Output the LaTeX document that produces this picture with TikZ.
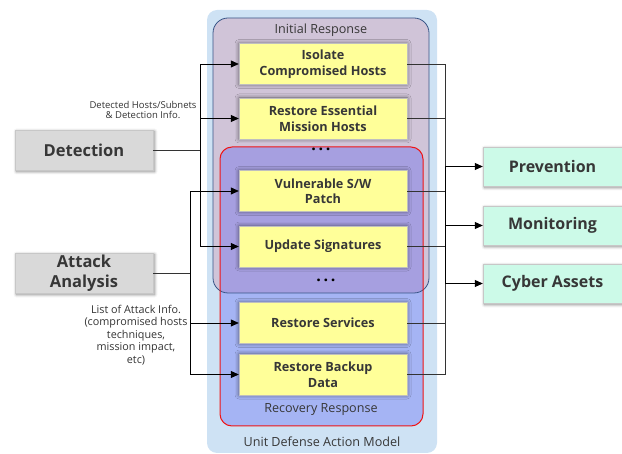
\documentclass[tikz,border=0pt]{standalone}
\usepackage{fontspec}
\setmainfont{Open Sans}
\usepackage{tikz}
\usetikzlibrary{arrows.meta,shadows.blur}
\definecolor{udmouter}{RGB}{206,226,244}
\definecolor{udminit}{RGB}{208,196,216}
\definecolor{udminitline}{RGB}{55,85,135}
\definecolor{udmrecov}{RGB}{72,75,245}
\definecolor{udmred}{RGB}{240,20,20}
\definecolor{udmyellow}{RGB}{255,255,153}
\definecolor{udmgray}{RGB}{217,217,217}
\definecolor{udmmint}{RGB}{204,250,232}
\definecolor{udmtext}{RGB}{55,55,55}

\begin{document}
\begin{tikzpicture}[
  x=1pt, y=-1pt,
  action/.style={draw=black!25, fill=udmyellow, minimum width=168pt, minimum height=41pt,
                 align=center, inner sep=1pt, text=udmtext,
                 font=\bfseries\fontsize{12.7}{15.5}\selectfont,
                 blur shadow={shadow xshift=0pt, shadow yshift=0pt, shadow blur radius=4pt, shadow opacity=55}},
  source/.style={draw=black!22, fill=udmgray, minimum width=138pt, minimum height=40pt,
                 align=center, inner sep=0pt, text=udmtext,
                 font=\bfseries\fontsize{16.5}{20}\selectfont,
                 blur shadow={shadow xshift=1.5pt, shadow yshift=-1.5pt, shadow blur radius=3pt, shadow opacity=50}},
  target/.style={draw=black!22, fill=udmmint, minimum width=139pt, minimum height=39pt,
                 align=center, inner sep=0pt, text=udmtext,
                 font=\bfseries\fontsize{16}{20}\selectfont,
                 blur shadow={shadow xshift=1.5pt, shadow yshift=-1.5pt, shadow blur radius=3pt, shadow opacity=50}},
  caption/.style={text=udmtext, font=\fontsize{12.6}{15}\selectfont},
  info/.style={text=black!80, align=center},
  arr/.style={-{Triangle[length=8pt, width=7pt]}, line width=0.8pt, black},
  feed/.style={line width=0.8pt, black!80}
]
\useasboundingbox (0,0) rectangle (622,454);
% ---- containers ----
\fill[udmouter, rounded corners=10pt] (207,10) rectangle (437,453);
\fill[udminit, rounded corners=15pt] (213,18) rectangle (429,293);
\fill[udmrecov, fill opacity=0.3, rounded corners=12pt] (220,147) rectangle (423,426);
\draw[udminitline, line width=0.8pt, rounded corners=15pt] (213,18) rectangle (429,293);
\draw[udmred, line width=1pt, rounded corners=12pt] (220,147) rectangle (423,426);
\node[caption] (initlbl) at (321,30) {Initial Response};
\node[caption] (recovlbl) at (321,410) {Recovery Response};
\node[caption] (modellbl) at (322,442) {Unit Defense Action Model};
\node[font=\bfseries\fontsize{16}{16}\selectfont] (dots1) at (321,149) {.\,.\,.};
\node[font=\bfseries\fontsize{16}{16}\selectfont] (dots2) at (326,280) {.\,.\,.};
% ---- defense actions ----
\node[action] (iso) at (323,64) {Isolate\\Compromised Hosts};
\node[action] (ess) at (323,118.5) {Restore Essential\\Mission Hosts};
\node[action] (vul) at (323,191) {Vulnerable S/W\\Patch};
\node[action] (sig) at (323,246.5) {Update Signatures};
\node[action] (svc) at (323,323) {Restore Services};
\node[action] (bak) at (323,374.5) {Restore Backup\\Data};
% ---- inputs ----
\node[source] (det) at (84,150) {Detection};
\node[source] (att) at (84,273) {Attack\\Analysis};
\node[info, font=\fontsize{9.5}{10.5}\selectfont] (detinfo) at (143,110)
  {Detected Hosts/Subnets\\\& Detection Info.};
\node[info, font=\fontsize{10.8}{12.5}\selectfont] (attinfo) at (136,335)
  {List of Attack Info.\\(compromised hosts\\techniques,\\mission impact,\\etc)};
% ---- outputs ----
\node[target] (prev) at (552.5,166.5) {Prevention};
\node[target] (mon) at (552.5,225.5) {Monitoring};
\node[target] (cyb) at (552.5,283.5) {Cyber Assets};
% left buses
\coordinate (dbus) at (200,150);
\coordinate (abus) at (190,273);
\draw[feed] (det.east) -- (dbus);
\draw[arr] (dbus) |- (iso.west);
\draw[arr] (dbus) |- (ess.west);
\draw[arr] (dbus) |- (sig.west);
\draw[feed] (att.east) -- (abus);
\draw[arr] (abus) |- (vul.west);
\draw[arr] (abus) |- (svc.west);
\draw[arr] (abus) |- (bak.west);
% right bus
\coordinate (obus) at (445,225.5);
\foreach \n in {iso,ess,vul,sig,svc,bak}
  \draw[feed] (\n.east) -| (obus);
\draw[arr] (obus) |- (prev.west);
\draw[arr] (obus) -- (mon.west);
\draw[arr] (obus) |- (cyb.west);
\end{tikzpicture}
\end{document}
